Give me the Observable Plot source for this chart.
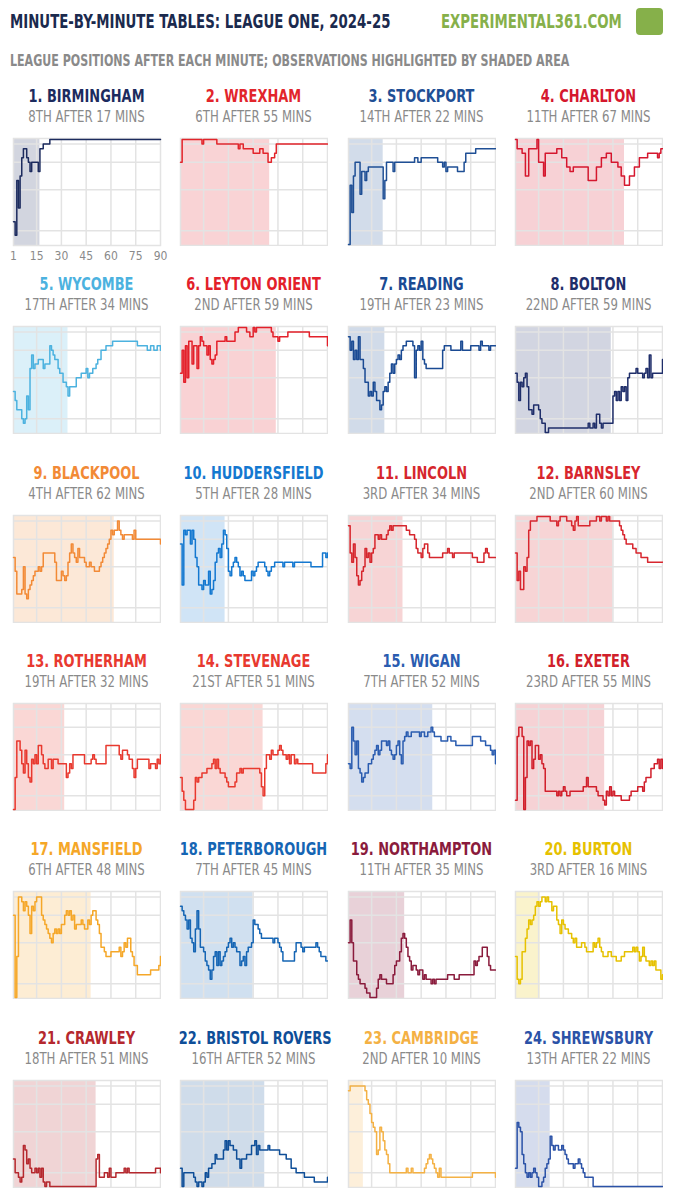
<!DOCTYPE html>
<html><head><meta charset="utf-8">
<script src="https://cdn.jsdelivr.net/npm/d3@7"></script>
<script src="https://cdn.jsdelivr.net/npm/@observablehq/plot@0.6"></script>
<style>
body{margin:0;background:#fff;font-family:"DejaVu Sans Condensed","DejaVu Sans",sans-serif;}
#wrap{position:relative;width:675px;height:1200px;overflow:hidden}
.t{position:absolute;white-space:nowrap;font-weight:bold;transform-origin:left top}
.pt{position:absolute;text-align:center;font-weight:bold;font-size:18px;white-space:nowrap;transform:scaleX(0.8);transform-origin:center top}
.ps{position:absolute;text-align:center;font-size:15.5px;color:#8a8a8a;white-space:nowrap;transform:scaleX(0.84);transform-origin:center top}
.pp{position:absolute}
</style></head><body><div id="wrap">
<div class="t" style="left:10px;top:9px;font-size:20px;color:#1b2a4e;transform:scaleX(0.74)">MINUTE-BY-MINUTE TABLES: LEAGUE ONE, 2024-25</div>
<div class="t" style="left:441px;top:9px;font-size:20px;color:#86b04a;transform:scaleX(0.74)">EXPERIMENTAL361.COM</div>
<div style="position:absolute;left:636px;top:8px;width:27px;height:27px;border-radius:4px;background:#86b04a"></div>
<div class="t" style="left:10px;top:52px;font-size:15px;color:#8a8a8a;transform:scaleX(0.82)">LEAGUE POSITIONS AFTER EACH MINUTE; OBSERVATIONS HIGHLIGHTED BY SHADED AREA</div>
</div>
<script>
const teams=["1. BIRMINGHAM","2. WREXHAM","3. STOCKPORT","4. CHARLTON","5. WYCOMBE","6. LEYTON ORIENT","7. READING","8. BOLTON","9. BLACKPOOL","10. HUDDERSFIELD","11. LINCOLN","12. BARNSLEY","13. ROTHERHAM","14. STEVENAGE","15. WIGAN","16. EXETER","17. MANSFIELD","18. PETERBOROUGH","19. NORTHAMPTON","20. BURTON","21. CRAWLEY","22. BRISTOL ROVERS","23. CAMBRIDGE","24. SHREWSBURY"];
const subtitles=["8TH AFTER 17 MINS","6TH AFTER 55 MINS","14TH AFTER 22 MINS","11TH AFTER 67 MINS","17TH AFTER 34 MINS","2ND AFTER 59 MINS","19TH AFTER 23 MINS","22ND AFTER 59 MINS","4TH AFTER 62 MINS","5TH AFTER 28 MINS","3RD AFTER 34 MINS","2ND AFTER 60 MINS","19TH AFTER 32 MINS","21ST AFTER 51 MINS","7TH AFTER 52 MINS","23RD AFTER 55 MINS","6TH AFTER 48 MINS","7TH AFTER 45 MINS","11TH AFTER 35 MINS","3RD AFTER 16 MINS","18TH AFTER 51 MINS","16TH AFTER 52 MINS","2ND AFTER 10 MINS","13TH AFTER 22 MINS"];
const shadeMins=[17,55,22,67,34,59,23,59,62,28,34,60,32,51,52,55,48,45,35,16,51,52,10,22];
const colors=["#1c2b5e","#e2252b","#1f4f95","#d5172e","#4cb2df","#e3202a","#1a4a93","#1f2e6a","#f28a36","#1478d0","#d6262d","#d8262e","#e8392f","#e8392f","#2a5cb0","#d11f2b","#f5a728","#1565b4","#8a1b3c","#e6c100","#b5282e","#0e4e98","#f4b144","#2b52a7"];
const xTicks=[1,15,30,45,60,75,90];
const yGrid=[2,6,12,21];
// change points: minute, position (position held until next change)
const birmingham=[1,19,2,22,3,10,4,16,5,9,6,5,7,3,9,5,10,6,11,8,12,6,16,8,17,3,19,2,23,1];
const wrexham=[1,6,2,1,14,2,15,1,23,2,36,3,37,2,39,3,45,4,49,3,51,4,54,6,56,5,58,4,59,2];
const stockport=[1,24,2,11,3,17,4,9,5,6,8,13,9,8,11,10,12,8,13,7,22,14,23,10,24,6,28,8,29,6,41,5,43,6,45,5,55,6,58,7,59,6,60,8,61,7,67,8,71,6,72,4,78,3];
const charlton=[1,1,2,3,5,4,7,9,9,3,14,1,15,6,18,9,19,4,26,3,29,5,32,7,34,8,36,7,45,10,50,7,53,5,56,4,59,6,63,7,65,9,67,11,70,9,73,7,76,5,81,4,87,5,88,4,89,3];
const wycombe=[1,15,2,17,3,19,6,21,7,22,8,21,9,16,10,19,11,10,12,7,13,10,14,9,16,8,19,10,20,9,23,5,24,6,25,7,26,8,28,10,29,11,31,13,33,14,34,16,35,14,39,12,42,11,45,10,46,12,47,11,49,10,51,9,52,8,54,6,57,5,61,4,76,5,82,6,84,5,86,6,88,5,90,6];
const leytonOrient=[1,11,2,6,3,13,4,5,5,12,6,4,8,9,9,5,11,10,12,5,13,3,14,4,15,5,17,7,18,5,19,8,20,9,21,8,22,7,23,4,28,3,29,4,34,2,36,1,41,2,43,3,45,1,46,2,47,1,56,2,57,3,60,4,61,3,66,2,79,3,90,5];
const reading=[1,3,2,6,3,4,4,8,5,6,6,8,7,3,8,8,10,10,11,13,13,16,14,15,15,16,16,13,17,15,18,17,20,19,21,18,22,15,23,14,24,15,25,13,26,11,27,9,28,11,29,9,30,8,31,7,32,8,33,6,34,5,36,4,40,5,41,12,42,6,43,5,44,6,45,4,46,8,47,9,48,10,58,6,59,5,63,6,69,4,70,6,75,5,80,6,81,4,82,5,86,6,87,5];
const bolton=[1,11,2,13,3,17,4,13,5,14,6,12,7,11,8,14,9,19,11,20,12,18,15,19,16,21,17,22,19,24,21,23,45,22,46,23,48,22,49,23,50,20,52,22,53,23,54,22,60,16,61,15,62,17,63,15,64,17,65,14,66,15,67,14,68,17,69,12,70,11,74,10,75,11,78,12,79,11,80,10,81,12,82,7,83,12,84,11,90,8];
const blackpool=[1,10,2,13,3,18,6,17,7,12,8,18,9,19,10,17,11,16,12,15,13,14,14,13,16,12,17,13,18,12,19,9,26,11,27,15,30,13,31,14,32,15,33,14,34,11,35,9,36,7,37,9,38,10,39,11,40,8,41,10,44,11,45,12,47,11,48,12,50,13,53,12,54,11,55,10,56,9,57,8,58,7,59,6,60,4,61,5,62,4,64,2,65,4,66,5,67,6,68,5,73,6,74,4,75,6,90,7];
const huddersfield=[1,7,2,16,3,4,4,5,5,4,7,7,8,4,9,6,10,10,11,12,12,16,14,17,15,15,16,16,18,13,19,18,20,17,21,15,22,11,23,9,24,8,25,10,26,7,27,4,28,5,29,8,30,13,31,14,32,12,33,11,34,10,35,11,36,12,37,14,38,13,39,14,40,15,44,13,45,14,46,13,47,12,48,11,52,12,53,13,54,14,55,13,56,12,58,11,63,12,64,11,69,12,70,11,80,12,87,9,89,10,90,9];
const lincoln=[1,3,2,9,3,11,4,7,5,10,6,14,7,16,8,15,9,13,10,12,11,8,12,10,13,9,14,11,15,9,16,8,17,5,19,6,20,5,21,6,24,5,25,4,26,3,27,4,28,3,36,4,38,5,41,6,42,8,43,9,45,10,46,8,47,7,49,9,50,10,58,9,61,8,62,9,64,10,65,9,76,10,79,11,83,9,84,8,85,9,86,10];
const barnsley=[1,9,2,15,3,13,4,17,6,12,7,13,8,10,9,4,10,2,14,1,22,2,26,3,27,2,28,1,32,2,35,3,36,4,37,2,38,1,39,3,46,2,50,1,52,2,53,1,56,2,57,1,58,2,64,3,65,4,66,5,67,6,68,7,72,8,74,9,77,10,81,11];
const rotherham=[1,24,2,17,3,9,5,11,6,14,7,16,8,11,9,14,10,17,11,18,12,13,13,14,14,12,15,14,16,10,18,12,19,14,20,15,22,13,24,15,25,13,28,14,33,17,34,16,35,14,36,15,37,12,44,14,48,13,49,12,50,13,51,14,57,10,65,12,66,13,67,11,70,12,71,13,73,15,74,17,75,15,76,13,83,15,84,14,87,15,88,13,89,14,90,12];
const stevenage=[1,17,2,20,3,22,4,24,9,22,10,17,11,18,12,17,14,16,17,15,20,14,21,13,22,15,23,13,24,15,25,16,28,17,29,18,30,19,34,18,35,16,37,15,38,16,39,15,49,16,50,19,51,21,52,15,53,12,55,13,56,11,57,12,60,11,61,10,62,11,63,12,65,13,66,12,67,14,68,12,70,14,71,13,72,14,81,16,89,14,90,12];
const wigan=[1,14,2,15,3,6,4,9,5,12,6,9,7,15,8,16,9,18,10,17,11,16,13,14,15,13,16,12,17,11,18,10,19,12,20,11,21,9,24,10,25,9,26,11,27,12,28,13,29,12,30,10,31,9,32,12,33,14,34,9,35,8,36,7,37,8,39,7,44,8,45,7,47,8,49,7,51,6,52,7,53,8,57,9,61,8,63,9,66,10,76,8,81,9,84,10,87,11,88,12,89,11,90,14];
const exeter=[1,22,2,8,3,6,5,8,6,24,7,17,8,9,9,10,10,9,11,15,12,13,13,10,15,13,16,12,17,14,18,15,19,20,26,21,27,20,28,21,29,20,30,19,31,20,32,21,34,20,42,19,44,17,45,19,50,20,51,21,54,22,55,23,56,20,57,21,58,19,59,21,60,20,61,21,65,22,70,21,71,20,75,19,78,20,79,18,80,17,83,15,85,14,87,13,88,15,89,13,90,15];
const mansfield=[1,6,2,24,3,15,4,2,6,3,7,5,8,3,9,4,10,6,11,10,12,4,13,5,14,3,15,2,18,6,19,7,20,8,21,9,22,10,23,11,24,12,25,10,26,9,27,10,28,9,29,10,30,8,32,6,33,5,34,6,35,5,36,7,37,6,38,9,39,8,42,7,43,8,44,9,46,7,47,8,48,6,49,5,51,7,52,8,53,10,54,13,56,14,57,15,60,14,65,13,66,15,67,14,68,12,69,13,70,11,72,14,73,15,74,17,76,19,84,18,89,17,90,15];
const peterborough=[1,4,2,5,3,6,4,7,5,9,6,7,7,11,8,12,9,14,10,9,11,5,12,9,13,13,15,14,16,16,17,17,18,18,19,20,20,18,21,15,22,14,23,17,24,14,25,17,26,16,27,15,28,14,29,13,30,12,31,11,32,13,33,12,34,13,35,14,37,17,38,16,39,15,40,17,41,14,42,13,44,12,45,7,46,8,48,9,49,10,50,11,57,12,58,11,60,12,61,13,62,14,63,16,70,14,71,12,74,13,75,14,76,13,83,12,84,13,85,14,86,15,89,16];
const northampton=[1,12,2,7,3,12,4,16,6,19,7,20,8,21,11,22,12,23,14,24,18,22,19,20,20,19,21,20,24,21,28,19,29,17,30,16,32,14,33,11,34,10,35,11,36,13,37,15,38,16,39,18,40,17,42,18,43,19,44,18,46,20,47,19,48,20,51,21,52,20,53,21,54,20,61,19,65,20,68,19,77,16,78,17,79,16,80,15,82,13,85,15,86,17,87,18];
const burton=[1,15,2,20,3,21,4,20,5,14,7,11,8,9,9,7,10,8,11,7,12,6,13,4,14,3,15,4,16,3,17,2,19,3,20,2,21,3,23,5,24,4,26,7,27,8,28,10,29,7,30,8,31,9,33,10,35,11,36,12,37,11,38,13,41,12,43,13,44,14,48,12,49,13,50,12,51,11,52,13,53,14,54,15,57,14,59,15,62,16,65,15,67,14,72,13,73,14,74,13,75,14,76,16,77,15,78,13,79,15,80,16,82,17,83,16,84,17,85,16,86,18,89,20,90,19];
const crawley=[1,18,2,21,4,22,5,23,6,22,7,15,8,16,9,19,10,18,11,20,12,21,14,20,15,21,16,20,17,22,18,20,19,23,20,24,21,23,23,24,51,18,52,17,53,22,56,21,58,22,59,20,60,22,63,21,68,20,69,21,70,20,71,21,87,20,90,21];
const bristolRovers=[1,20,2,24,3,21,9,22,10,23,11,24,12,23,14,24,15,23,16,21,17,22,18,20,20,19,22,17,23,18,27,16,28,14,29,16,30,14,31,15,33,16,35,18,37,20,38,18,41,17,44,15,46,14,47,17,48,15,49,16,53,16,54,15,55,16,61,17,65,18,68,20,71,21,76,22,82,23,90,22];
const cambridge=[1,3,2,2,11,3,12,5,13,6,14,8,15,10,16,11,17,12,18,17,19,16,20,11,21,12,22,14,23,16,24,17,25,19,26,21,36,20,37,21,39,20,40,21,47,20,48,19,49,18,50,17,51,18,52,19,53,20,54,21,55,22,56,20,57,22,76,21,90,22];
const shrewsbury=[1,20,2,10,3,11,4,12,5,17,6,19,7,21,8,22,9,21,10,22,11,21,12,20,13,21,14,22,15,24,17,23,18,22,19,20,20,19,21,18,22,13,23,15,24,16,25,15,27,16,29,15,30,16,31,17,32,18,33,19,36,20,37,19,39,18,40,19,41,20,42,21,43,22,48,24];
const series=[birmingham,wrexham,stockport,charlton,wycombe,leytonOrient,reading,bolton,blackpool,huddersfield,lincoln,barnsley,rotherham,stevenage,wigan,exeter,mansfield,peterborough,northampton,burton,crawley,bristolRovers,cambridge,shrewsbury];

function expand(flat){
  const out=[];let cur=null,k=0;
  for(let m=1;m<=90;m++){
    while(k<flat.length && flat[k]<=m){cur=flat[k+1];k+=2;}
    out.push({m,p:cur});
  }
  return out;
}
const wrap=document.getElementById("wrap");
const W=147,H=107;
teams.forEach((name,i)=>{
  const c=i%4,r=Math.floor(i/4);
  const left=13+c*167.4, top=138+r*188.3;
  const t=document.createElement("div");t.className="pt";
  t.style.cssText=`left:${left-20}px;top:${top-53}px;width:${W+40}px;color:${colors[i]}`;t.textContent=name;wrap.appendChild(t);
  const s=document.createElement("div");s.className="ps";
  s.style.cssText=`left:${left-20}px;top:${top-30}px;width:${W+40}px`;s.textContent=subtitles[i];wrap.appendChild(s);
  const first=i===0;
  const ml=first?10:1, mr=first?10:1;
  const plot=Plot.plot({
    width:W+ml+mr,height:H+2+(first?20:0),
    marginLeft:ml,marginRight:mr,marginTop:1,marginBottom:1+(first?20:0),
    x:{domain:[1,90],axis:first?"bottom":null,ticks:xTicks,tickSize:0,tickPadding:6},
    y:{domain:[1,24],reverse:true,axis:null,insetTop:1,insetBottom:1},
    style:{fontFamily:"DejaVu Sans Condensed, sans-serif",fontSize:"12px",color:"#8a8a8a",background:"transparent"},
    marks:[
      Plot.rect([{a:1,b:shadeMins[i]}],{x1:"a",x2:"b",fill:colors[i],fillOpacity:0.2}),
      Plot.ruleX(xTicks.slice(1,-1),{stroke:"#e3e3e3",strokeWidth:1.5}),
      Plot.ruleY(yGrid,{stroke:"#e3e3e3",strokeWidth:1.5}),
      Plot.frame({stroke:"#e3e3e3",strokeWidth:1.5}),
      Plot.line(expand(series[i]),{x:"m",y:"p",curve:"step-after",stroke:colors[i],strokeWidth:1.5})
    ]
  });
  plot.classList.add("pp");
  plot.style.left=(left-ml)+"px";plot.style.top=(top-1)+"px";
  wrap.appendChild(plot);
});
</script></body></html>
